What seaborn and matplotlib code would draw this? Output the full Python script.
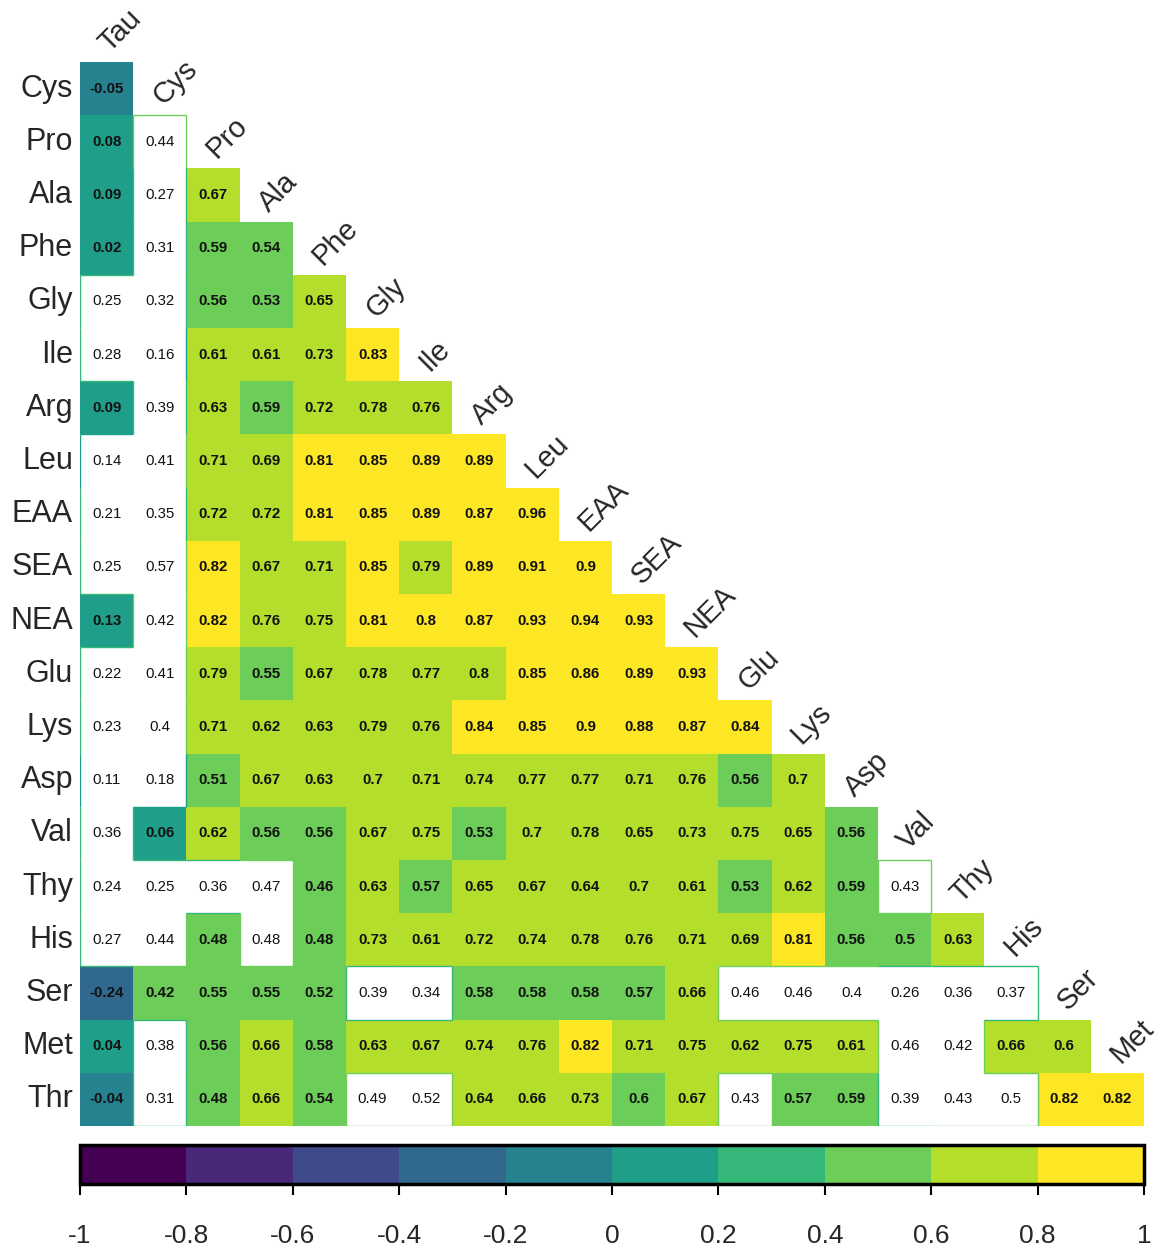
import numpy as np
import pandas as pd
import matplotlib
matplotlib.use("Agg")
import matplotlib.pyplot as plt
from matplotlib.colors import ListedColormap, Normalize
from matplotlib import font_manager
import seaborn as sns

# ---- labels -------------------------------------------------------------
col_labels = ["Tau", "Cys", "Pro", "Ala", "Phe", "Gly", "Ile", "Arg", "Leu", "EAA",
              "SEA", "NEA", "Glu", "Lys", "Asp", "Val", "Thy", "His", "Ser", "Met"]
row_labels = ["Cys", "Pro", "Ala", "Phe", "Gly", "Ile", "Arg", "Leu", "EAA", "SEA",
              "NEA", "Glu", "Lys", "Asp", "Val", "Thy", "His", "Ser", "Met", "Thr"]

# ---- lower-triangle correlation coefficients (one list per row) ---------
r_cys = [-0.05]
r_pro = [0.08, 0.44]
r_ala = [0.09, 0.27, 0.67]
r_phe = [0.02, 0.31, 0.59, 0.54]
r_gly = [0.25, 0.32, 0.56, 0.53, 0.65]
r_ile = [0.28, 0.16, 0.61, 0.61, 0.73, 0.83]
r_arg = [0.09, 0.39, 0.63, 0.59, 0.72, 0.78, 0.76]
r_leu = [0.14, 0.41, 0.71, 0.69, 0.81, 0.85, 0.89, 0.89]
r_eaa = [0.21, 0.35, 0.72, 0.72, 0.81, 0.85, 0.89, 0.87, 0.96]
r_sea = [0.25, 0.57, 0.82, 0.67, 0.71, 0.85, 0.79, 0.89, 0.91, 0.90]
r_nea = [0.13, 0.42, 0.82, 0.76, 0.75, 0.81, 0.802, 0.87, 0.93, 0.94, 0.93]
r_glu = [0.22, 0.41, 0.79, 0.55, 0.67, 0.78, 0.77, 0.798, 0.85, 0.86, 0.89, 0.93]
r_lys = [0.23, 0.40, 0.71, 0.62, 0.63, 0.79, 0.76, 0.84, 0.85, 0.90, 0.88, 0.87, 0.84]
r_asp = [0.11, 0.18, 0.51, 0.67, 0.63, 0.70, 0.71, 0.74, 0.77, 0.77, 0.71, 0.76, 0.56, 0.70]
r_val = [0.36, 0.06, 0.62, 0.56, 0.56, 0.67, 0.75, 0.53, 0.70, 0.78, 0.65, 0.73, 0.75, 0.65,
         0.56]
r_thy = [0.24, 0.25, 0.36, 0.47, 0.46, 0.63, 0.57, 0.65, 0.67, 0.64, 0.70, 0.61, 0.53, 0.62,
         0.59, 0.43]
r_his = [0.27, 0.44, 0.48, 0.48, 0.48, 0.73, 0.61, 0.72, 0.74, 0.78, 0.76, 0.71, 0.69, 0.81,
         0.56, 0.50, 0.63]
r_ser = [-0.24, 0.42, 0.55, 0.55, 0.52, 0.39, 0.34, 0.58, 0.58, 0.58, 0.57, 0.66, 0.46, 0.46,
         0.40, 0.26, 0.36, 0.37]
r_met = [0.04, 0.38, 0.56, 0.66, 0.58, 0.63, 0.67, 0.74, 0.76, 0.82, 0.71, 0.75, 0.62, 0.75,
         0.61, 0.46, 0.42, 0.66, 0.602]
r_thr = [-0.04, 0.31, 0.48, 0.66, 0.54, 0.49, 0.52, 0.64, 0.66, 0.73, 0.598, 0.67, 0.43, 0.57,
         0.59, 0.39, 0.43, 0.50, 0.82, 0.82]

rows = [r_cys, r_pro, r_ala, r_phe, r_gly, r_ile, r_arg, r_leu, r_eaa, r_sea,
        r_nea, r_glu, r_lys, r_asp, r_val, r_thy, r_his, r_ser, r_met, r_thr]

# ---- non-significant pairs (row, column), left blank --------------------
nonsig_cells = [
    ("Gly", "Tau"), ("Ile", "Tau"), ("Leu", "Tau"), ("EAA", "Tau"), ("SEA", "Tau"),
    ("Glu", "Tau"), ("Lys", "Tau"), ("Asp", "Tau"), ("Val", "Tau"), ("Thy", "Tau"),
    ("His", "Tau"),
    ("Pro", "Cys"), ("Ala", "Cys"), ("Phe", "Cys"), ("Gly", "Cys"), ("Ile", "Cys"),
    ("Arg", "Cys"), ("Leu", "Cys"), ("EAA", "Cys"), ("SEA", "Cys"), ("NEA", "Cys"),
    ("Glu", "Cys"), ("Lys", "Cys"), ("Asp", "Cys"), ("Thy", "Cys"), ("His", "Cys"),
    ("Met", "Cys"), ("Thr", "Cys"),
    ("Thy", "Pro"), ("Thy", "Ala"), ("His", "Ala"),
    ("Ser", "Gly"), ("Thr", "Gly"), ("Ser", "Ile"), ("Thr", "Ile"),
    ("Ser", "Glu"), ("Thr", "Glu"), ("Ser", "Lys"), ("Ser", "Asp"),
    ("Thy", "Val"), ("Ser", "Val"), ("Met", "Val"), ("Thr", "Val"),
    ("Ser", "Thy"), ("Met", "Thy"), ("Thr", "Thy"),
    ("Ser", "His"), ("Thr", "His"),
]

# ---- colours: 10-step viridis over [-1, 1] ------------------------------
palette = ["#440154", "#482878", "#3E4A89", "#31688E", "#26828E",
           "#1F9E89", "#35B779", "#6DCD59", "#B4DE2C", "#FDE725"]
cbar_ticks = [-1, -0.8, -0.6, -0.4, -0.2, 0, 0.2, 0.4, 0.6, 0.8, 1]

# ---- assemble matrices --------------------------------------------------
n_r, n_c = len(row_labels), len(col_labels)
corr = np.full((n_r, n_c), np.nan)
for i, vals in enumerate(rows):
    corr[i, :len(vals)] = vals
corr_df = pd.DataFrame(corr, index=row_labels, columns=col_labels)

insig = np.zeros((n_r, n_c), dtype=bool)
for rl, cl in nonsig_cells:
    insig[row_labels.index(rl), col_labels.index(cl)] = True

mask = np.isnan(corr) | insig

# ---- fonts ---------------------------------------------------------------
sns.set_style("white")
installed = {f.name for f in font_manager.fontManager.ttflist}
main_font = "Liberation Sans" if "Liberation Sans" in installed else "DejaVu Sans"
narrow_font = "Liberation Sans Narrow" if "Liberation Sans Narrow" in installed else main_font
plt.rcParams["font.family"] = [main_font, "DejaVu Sans"]


def fmt(v):
    s = f"{v:.2f}".rstrip("0").rstrip(".")
    return "0" if s in ("-0", "") else s


# ---- figure --------------------------------------------------------------
W, H = 1161, 1251
fig = plt.figure(figsize=(W / 100, H / 100), dpi=100)
ax = fig.add_axes([80 / W, 1 - 1126 / H, 1064 / W, 1064 / H])
cax = fig.add_axes([80 / W, 1 - 1184 / H, 1064 / W, 39 / H])

cmap = ListedColormap(palette)
norm = Normalize(vmin=-1, vmax=1)

sns.heatmap(corr_df, mask=mask, cmap=cmap, vmin=-1, vmax=1, ax=ax,
            cbar=True, cbar_ax=cax,
            cbar_kws={"orientation": "horizontal", "ticks": cbar_ticks},
            xticklabels=False, yticklabels=row_labels, linewidths=0)

ax.set_xlabel("")
ax.set_ylabel("")
ax.tick_params(axis="y", length=0, pad=5, labelsize=22)
for t in ax.get_yticklabels():
    t.set_rotation(0)
for sp in ax.spines.values():
    sp.set_visible(False)

# cell annotations
for i in range(n_r):
    for j in range(n_c):
        v = corr[i, j]
        if np.isnan(v):
            continue
        ax.text(j + 0.5, i + 0.5, fmt(v), ha="center", va="center",
                fontsize=10.8, color="#111111",
                fontweight="normal" if insig[i, j] else "bold")


# thin outline around blank (non-significant) regions, in the cell's own colour
def is_blank(i, j):
    return 0 <= i < n_r and 0 <= j < n_c and insig[i, j]


for i in range(n_r):
    for j in range(n_c):
        if not insig[i, j]:
            continue
        c = cmap(norm(corr[i, j]))
        if not is_blank(i - 1, j):
            ax.plot([j, j + 1], [i, i], color=c, lw=1.0, solid_capstyle="butt")
        if not is_blank(i + 1, j):
            ax.plot([j, j + 1], [i + 1, i + 1], color=c, lw=1.0, solid_capstyle="butt")
        if not is_blank(i, j - 1):
            ax.plot([j, j], [i, i + 1], color=c, lw=1.0, solid_capstyle="butt")
        if not is_blank(i, j + 1):
            ax.plot([j + 1, j + 1], [i, i + 1], color=c, lw=1.0, solid_capstyle="butt")

# diagonal column labels
for j, lab in enumerate(col_labels):
    ax.text(j + 0.56, j - 0.17, lab, rotation=45, rotation_mode="anchor",
            ha="left", va="baseline", fontsize=21, clip_on=False)

# ---- colour bar ----------------------------------------------------------
cbar = ax.collections[0].colorbar
cbar.set_ticks(cbar_ticks)
cbar.set_ticklabels([fmt(t) for t in cbar_ticks])
cbar.outline.set_edgecolor("black")
cbar.outline.set_linewidth(2.5)
cax.xaxis.set_ticks_position("bottom")
cax.tick_params(axis="x", length=8, width=1.5, color="black", direction="out",
                pad=21, labelsize=19)
for t in cax.get_xticklabels():
    t.set_fontfamily([narrow_font, "DejaVu Sans"])

fig.savefig("out.png", dpi=100)
